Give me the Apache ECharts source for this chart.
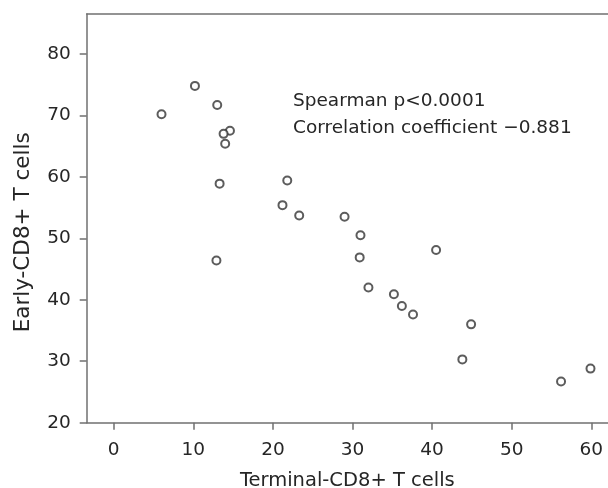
<!DOCTYPE html>
<html>
<head>
<meta charset="utf-8">
<script src="https://cdn.jsdelivr.net/npm/echarts@6/dist/echarts.min.js"></script>
<style>
  html, body { margin: 0; padding: 0; background: #ffffff; }
  #chart { width: 608px; height: 488px; }
</style>
</head>
<body>
<div id="chart"></div>
<script>
// Data
var terminalCD8 = [6.0, 10.2, 13.0, 14.6, 13.8, 14.0, 13.3, 12.9, 21.8, 21.2, 23.3, 29.0, 31.0, 30.9, 40.5, 32.0, 35.2, 36.2, 37.6, 44.9, 43.8, 56.2, 59.9];
var earlyCD8    = [70.2, 74.8, 71.7, 67.5, 67.0, 65.4, 58.9, 46.4, 59.4, 55.4, 53.7, 53.5, 50.5, 46.9, 48.1, 42.0, 40.9, 39.0, 37.6, 36.0, 30.3, 26.7, 28.8];
var xTickValues = [0, 10, 20, 30, 40, 50, 60];
var yTickValues = [20, 30, 40, 50, 60, 70, 80];
var xAxisTitle = 'Terminal-CD8+ T cells';
var yAxisTitle = 'Early-CD8+ T cells';
var annotationLines = ['Spearman p<0.0001', 'Correlation coefficient \u22120.881'];

var points = terminalCD8.map(function (x, i) { return [x, earlyCD8[i]]; });

var FONT = 'DejaVu Sans';
var TEXT = '#262626';
var AXIS = '#707070';

var chart = echarts.init(document.getElementById('chart'), null, { renderer: 'canvas' });
chart.setOption({
  backgroundColor: '#ffffff',
  animation: false,
  grid: { left: 86.7, top: 14, right: 0, bottom: 65.3, containLabel: false, outerBoundsMode: 'none' },
  xAxis: [{
    type: 'value',
    position: 'bottom',
    min: -3.4,
    max: 62.1,
    splitLine: { show: false },
    axisLine: { show: true, onZero: false, lineStyle: { color: AXIS, width: 1.5 } },
    axisTick: { show: true, length: 7, customValues: xTickValues, lineStyle: { color: AXIS, width: 1.5 } },
    axisLabel: { customValues: xTickValues, margin: 18, color: TEXT, fontFamily: FONT, fontSize: 18.5 },
    name: xAxisTitle,
    nameLocation: 'middle',
    nameGap: 48.5,
    nameTextStyle: { color: TEXT, fontFamily: FONT, fontSize: 19.5 }
  }, {
    type: 'value',
    position: 'top',
    min: -3.4,
    max: 62.1,
    splitLine: { show: false },
    axisLine: { show: true, onZero: false, lineStyle: { color: AXIS, width: 1.5 } },
    axisTick: { show: false },
    axisLabel: { show: false }
  }],
  yAxis: {
    type: 'value',
    min: 20,
    max: 86.5,
    splitLine: { show: false },
    axisLine: { show: true, onZero: false, lineStyle: { color: AXIS, width: 1.5 } },
    axisTick: { show: true, length: 7, customValues: yTickValues, lineStyle: { color: AXIS, width: 1.5 } },
    axisLabel: { customValues: yTickValues, margin: 16, color: TEXT, fontFamily: FONT, fontSize: 18.5 },
    name: yAxisTitle,
    nameLocation: 'middle',
    nameGap: 52,
    nameTextStyle: { color: TEXT, fontFamily: FONT, fontSize: 21.5, padding: [0, 28, 0, 0] }
  },
  graphic: [{
    type: 'text',
    left: 293,
    top: 92,
    style: { text: annotationLines[0], fill: TEXT, font: '18.5px "' + FONT + '"' }
  }, {
    type: 'text',
    left: 293,
    top: 119,
    style: { text: annotationLines[1], fill: TEXT, font: '18.5px "' + FONT + '"' }
  }],
  series: [{
    type: 'scatter',
    xAxisIndex: 0,
    data: points,
    symbol: 'circle',
    symbolSize: 8,
    itemStyle: { color: '#ffffff', borderColor: '#333333', borderWidth: 2 }
  }]
});
</script>
</body>
</html>
